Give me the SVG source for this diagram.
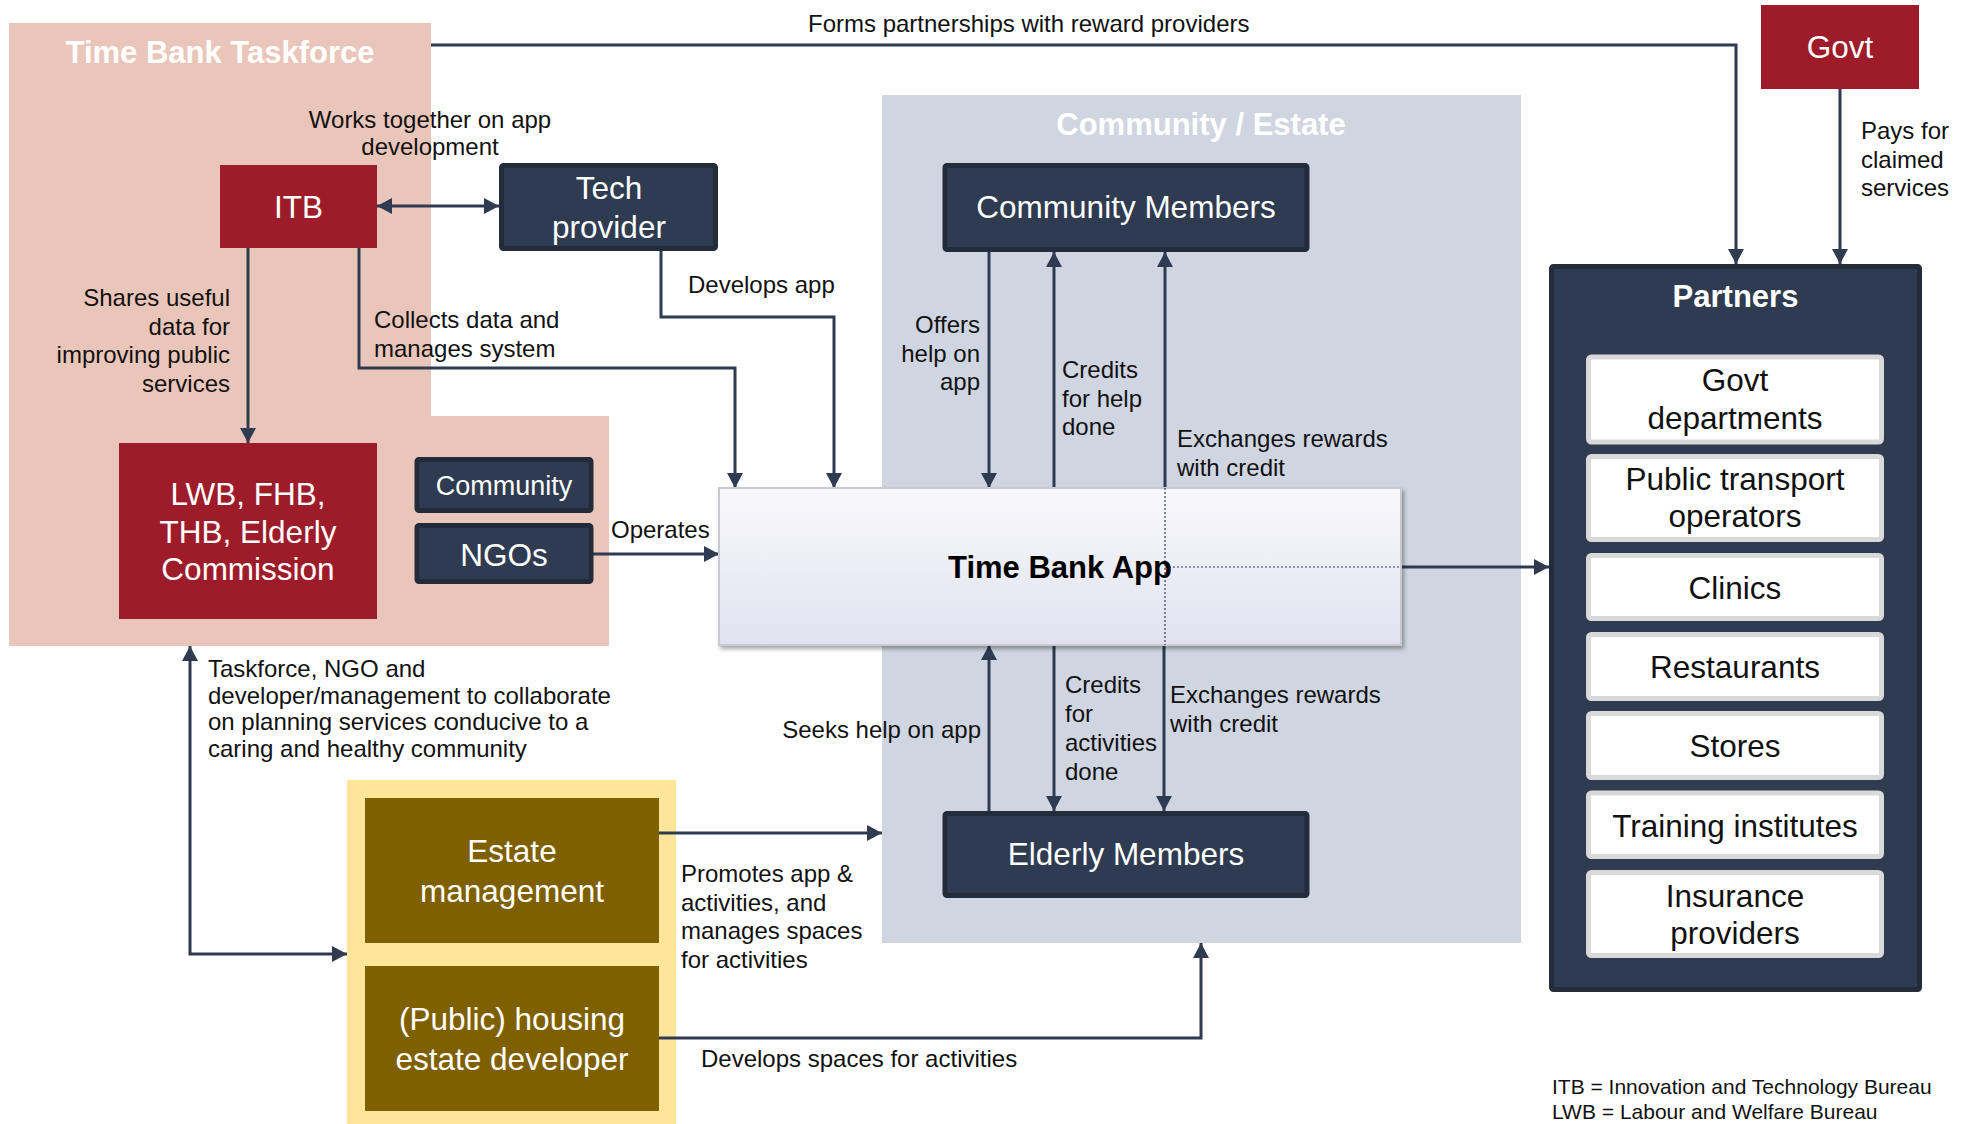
<svg xmlns="http://www.w3.org/2000/svg" width="1968" height="1124" viewBox="0 0 1968 1124">
<style>
text{font-family:"Liberation Sans",Arial,sans-serif}
.lbl{font-size:24px;fill:#111}
.bt{font-size:31.5px;fill:#fff;text-anchor:middle}
.bk{font-size:31.5px;fill:#111;text-anchor:middle}
.ttl{font-size:31px;font-weight:bold;fill:#fff;text-anchor:middle}
.red{fill:#9e1b2a}
.navy{fill:#2f3b50;stroke:#222c3b;stroke-width:5}
.olive{fill:#7f6000}
.item{fill:#fff;stroke:#d9d9d9;stroke-width:5}
.ln{fill:none;stroke:#2f3b50;stroke-width:3}
.dot{fill:none;stroke:#2f3b50;stroke-width:1.2;stroke-dasharray:2 2}
.end{text-anchor:end}
.mid{text-anchor:middle}
</style>
<defs>
<marker id="ah" viewBox="0 0 15 16" refX="15" refY="8" markerWidth="15" markerHeight="16" markerUnits="userSpaceOnUse" orient="auto-start-reverse">
<path d="M0,0 L15,8 L0,16 z" fill="#2f3b50"/>
</marker>
<linearGradient id="appg" x1="0" y1="0" x2="0" y2="1">
<stop offset="0" stop-color="#f8f8fc"/>
<stop offset="1" stop-color="#e2e2ef"/>
</linearGradient>
<filter id="sh" x="-5%" y="-10%" width="110%" height="125%">
<feDropShadow dx="2" dy="3" stdDeviation="2" flood-color="#000" flood-opacity="0.35"/>
</filter>
</defs>

<!-- backgrounds -->
<g id="taskforce">
<rect x="9" y="23" width="422" height="623" fill="#eac6ba"/>
<rect x="9" y="416" width="600" height="230" fill="#eac6ba"/>
<text class="ttl" x="220" y="63">Time Bank Taskforce</text>
</g>
<g id="community-estate">
<rect x="882" y="95" width="639" height="848" fill="#cfd6e1"/>
<text class="ttl" x="1201" y="135">Community / Estate</text>
</g>
<g id="estate-group">
<rect x="347" y="780" width="329" height="344" fill="#ffe599"/>
</g>

<!-- connectors -->
<g id="connectors">
<path class="ln" d="M377,206 L499,206" marker-start="url(#ah)" marker-end="url(#ah)"/>
<path class="ln" d="M248,248 L248,443" marker-end="url(#ah)"/>
<path class="ln" d="M359,248 L359,368 L735,368 L735,488" marker-end="url(#ah)"/>
<path class="ln" d="M661,250 L661,317 L834,317 L834,488" marker-end="url(#ah)"/>
<path class="ln" d="M431,45 L1736,45 L1736,264" marker-end="url(#ah)"/>
<path class="ln" d="M1840,89 L1840,264" marker-end="url(#ah)"/>
<path class="ln" d="M593,554 L719,554" marker-end="url(#ah)"/>
<path class="ln" d="M989,252 L989,488" marker-end="url(#ah)"/>
<path class="ln" d="M1054,488 L1054,252" marker-end="url(#ah)"/>
<path class="ln" d="M1165,488 L1165,252" marker-end="url(#ah)"/>
<path class="ln" d="M989,811 L989,645" marker-end="url(#ah)"/>
<path class="ln" d="M1054,645 L1054,811" marker-end="url(#ah)"/>
<path class="ln" d="M1164,645 L1164,811" marker-end="url(#ah)"/>
<path class="ln" d="M1401,567 L1549,567" marker-end="url(#ah)"/>
<path class="ln" d="M659,833 L882,833" marker-end="url(#ah)"/>
<path class="ln" d="M659,1038 L1201,1038 L1201,943" marker-end="url(#ah)"/>
<path class="ln" d="M190,646 L190,954 L347,954" marker-start="url(#ah)" marker-end="url(#ah)"/>
</g>

<!-- nodes -->
<g id="itb">
<rect class="red" x="220" y="165" width="157" height="83"/>
<text class="bt" x="298.5" y="218">ITB</text>
</g>
<g id="tech-provider">
<rect class="navy" x="501.5" y="165.5" width="214" height="83" rx="2"/>
<text class="bt" x="609" y="199">Tech</text>
<text class="bt" x="609" y="238">provider</text>
</g>
<g id="lwb">
<rect class="red" x="119" y="443" width="258" height="176"/>
<text class="bt" x="248" y="505">LWB, FHB,</text>
<text class="bt" x="248" y="543">THB, Elderly</text>
<text class="bt" x="248" y="580">Commission</text>
</g>
<g id="community">
<rect class="navy" x="417" y="459.5" width="174" height="51" rx="2"/>
<text class="bt" x="504" y="495" style="font-size:27px">Community</text>
</g>
<g id="ngos">
<rect class="navy" x="417" y="525.5" width="174" height="56" rx="2"/>
<text class="bt" x="504" y="566">NGOs</text>
</g>
<g id="community-members">
<rect class="navy" x="945" y="165.5" width="362" height="84" rx="2"/>
<text class="bt" x="1126" y="218">Community Members</text>
</g>
<g id="time-bank-app">
<rect x="719" y="488" width="682" height="157" fill="url(#appg)" stroke="#c9c9d3" stroke-width="2" filter="url(#sh)"/>
<path class="dot" d="M1165,488 L1165,645 M1165,567 L1401,567"/>
<text x="1060" y="578" class="mid" style="font-size:31px;font-weight:bold;fill:#000">Time Bank App</text>
</g>
<g id="elderly-members">
<rect class="navy" x="945" y="813.5" width="362" height="82" rx="2"/>
<text class="bt" x="1126" y="865">Elderly Members</text>
</g>
<g id="estate-management">
<rect class="olive" x="365" y="798" width="294" height="145"/>
<text class="bt" x="512" y="862">Estate</text>
<text class="bt" x="512" y="902">management</text>
</g>
<g id="housing-developer">
<rect class="olive" x="365" y="966" width="294" height="145"/>
<text class="bt" x="512" y="1030">(Public) housing</text>
<text class="bt" x="512" y="1070">estate developer</text>
</g>
<g id="govt">
<rect class="red" x="1761" y="5" width="158" height="84"/>
<text class="bt" x="1840" y="58">Govt</text>
</g>
<g id="partners">
<rect class="navy" x="1551.5" y="266.5" width="368" height="723" rx="2"/>
<text class="ttl" x="1735.5" y="307">Partners</text>
<g id="p-govt-departments"><rect class="item" x="1588.5" y="357" width="293" height="85" rx="3"/>
<text class="bk" x="1735" y="391">Govt</text><text class="bk" x="1735" y="429">departments</text></g>
<g id="p-public-transport"><rect class="item" x="1588.5" y="456.5" width="293" height="83" rx="3"/>
<text class="bk" x="1735" y="490">Public transport</text><text class="bk" x="1735" y="527">operators</text></g>
<g id="p-clinics"><rect class="item" x="1588.5" y="555.5" width="293" height="63" rx="3"/>
<text class="bk" x="1735" y="599">Clinics</text></g>
<g id="p-restaurants"><rect class="item" x="1588.5" y="634.5" width="293" height="64" rx="3"/>
<text class="bk" x="1735" y="678">Restaurants</text></g>
<g id="p-stores"><rect class="item" x="1588.5" y="713.5" width="293" height="64" rx="3"/>
<text class="bk" x="1735" y="757">Stores</text></g>
<g id="p-training"><rect class="item" x="1588.5" y="793" width="293" height="63.5" rx="3"/>
<text class="bk" x="1735" y="837">Training institutes</text></g>
<g id="p-insurance"><rect class="item" x="1588.5" y="872.5" width="293" height="83" rx="3"/>
<text class="bk" x="1735" y="907">Insurance</text><text class="bk" x="1735" y="944">providers</text></g>
</g>

<!-- labels -->
<g id="labels">
<text class="lbl" x="808" y="32">Forms partnerships with reward providers</text>
<text class="lbl mid" x="430" y="128">Works together on app</text>
<text class="lbl mid" x="430" y="155">development</text>
<text class="lbl end" x="230" y="306">Shares useful</text>
<text class="lbl end" x="230" y="334.5">data for</text>
<text class="lbl end" x="230" y="363">improving public</text>
<text class="lbl end" x="230" y="391.5">services</text>
<text class="lbl" x="374" y="328">Collects data and</text>
<text class="lbl" x="374" y="357">manages system</text>
<text class="lbl" x="688" y="293">Develops app</text>
<text class="lbl" x="611" y="538">Operates</text>
<text class="lbl end" x="980" y="333">Offers</text>
<text class="lbl end" x="980" y="361.5">help on</text>
<text class="lbl end" x="980" y="390">app</text>
<text class="lbl" x="1062" y="378">Credits</text>
<text class="lbl" x="1062" y="406.5">for help</text>
<text class="lbl" x="1062" y="435">done</text>
<text class="lbl" x="1177" y="447">Exchanges rewards</text>
<text class="lbl" x="1177" y="476">with credit</text>
<text class="lbl end" x="981" y="738">Seeks help on app</text>
<text class="lbl" x="1065" y="693">Credits</text>
<text class="lbl" x="1065" y="722">for</text>
<text class="lbl" x="1065" y="751">activities</text>
<text class="lbl" x="1065" y="780">done</text>
<text class="lbl" x="1170" y="703">Exchanges rewards</text>
<text class="lbl" x="1170" y="732">with credit</text>
<text class="lbl" x="681" y="882">Promotes app &amp;</text>
<text class="lbl" x="681" y="910.5">activities, and</text>
<text class="lbl" x="681" y="939">manages spaces</text>
<text class="lbl" x="681" y="967.5">for activities</text>
<text class="lbl" x="701" y="1067">Develops spaces for activities</text>
<text class="lbl" x="208" y="677">Taskforce, NGO and</text>
<text class="lbl" x="208" y="703.5">developer/management to collaborate</text>
<text class="lbl" x="208" y="730">on planning services conducive to a</text>
<text class="lbl" x="208" y="756.5">caring and healthy community</text>
<text class="lbl" x="1861" y="139">Pays for</text>
<text class="lbl" x="1861" y="167.5">claimed</text>
<text class="lbl" x="1861" y="196">services</text>
<text class="lbl" x="1552" y="1094" style="font-size:21px">ITB = Innovation and Technology Bureau</text>
<text class="lbl" x="1552" y="1119" style="font-size:21px">LWB = Labour and Welfare Bureau</text>
</g>
</svg>
